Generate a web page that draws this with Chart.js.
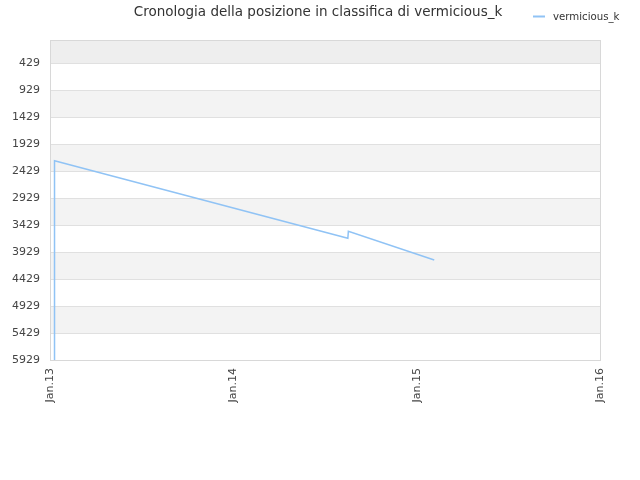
<!DOCTYPE html>
<html>
<head>
<meta charset="utf-8">
<script src="https://cdn.jsdelivr.net/npm/chart.js@4"></script>
<style>
  body { margin: 0; background: #fff; }
  #wrap { width: 640px; height: 480px; }
</style>
</head>
<body>
<div id="wrap"><canvas id="rankChart"></canvas></div>
<script>
// ===== DATA =====
const dates = ["2013-01-09", "2013-01-10", "2014-08-17", "2014-08-18", "2015-02-05"];
const ranks = [5929, 2236, 3674, 3545, 4076];
const yTicks = [429, 929, 1429, 1929, 2429, 2929, 3429, 3929, 4429, 4929, 5429, 5929];
const xTicks = ["2013-01-01", "2014-01-01", "2015-01-01", "2016-01-01"];
const xLabels = ["Jan.13", "Jan.14", "Jan.15", "Jan.16"];

const toMs = s => Date.parse(s + "T00:00:00Z");
const points = dates.map((d, i) => ({ x: toMs(d), y: ranks[i] }));

// alternating horizontal bands + title + legend
const decor = {
  id: "decor",
  beforeDatasetsDraw(chart) {
    const { ctx, chartArea: a, scales: { y } } = chart;
    const edges = [y.min].concat(yTicks);
    ctx.save();
    for (let i = 0; i < edges.length - 1; i++) {
      if (i % 2 === 1) continue;
      const top = y.getPixelForValue(edges[i]);
      const bot = y.getPixelForValue(edges[i + 1]);
      ctx.fillStyle = i === 0 ? "#eeeeee" : "#f3f3f3";
      ctx.fillRect(a.left, top, a.right - a.left, bot - top);
    }
    // grid lines over bands
    ctx.strokeStyle = "#e0e0e0";
    ctx.lineWidth = 1;
    yTicks.forEach(v => {
      const py = Math.round(y.getPixelForValue(v)) + 0.5;
      ctx.beginPath();
      ctx.moveTo(a.left, py);
      ctx.lineTo(a.right, py);
      ctx.stroke();
    });
    ctx.strokeStyle = "#d8d8d8";
    ctx.strokeRect(a.left + 0.5, a.top + 0.5, a.right - a.left, a.bottom - a.top);
    ctx.restore();
  },
  afterDraw(chart) {
    const { ctx } = chart;
    ctx.save();
    ctx.fillStyle = "#333";
    ctx.font = "13.5px 'DejaVu Sans'";
    ctx.textAlign = "center";
    ctx.textBaseline = "middle";
    ctx.fillText("Cronologia della posizione in classifica di vermicious_k", 318, 12);
    ctx.strokeStyle = "#90c3f5";
    ctx.lineWidth = 2;
    ctx.beginPath();
    ctx.moveTo(533, 16.5);
    ctx.lineTo(545, 16.5);
    ctx.stroke();
    ctx.font = "10.2px 'DejaVu Sans'";
    ctx.textAlign = "left";
    ctx.fillText("vermicious_k", 553, 17);
    ctx.restore();
  }
};

new Chart(document.getElementById("rankChart"), {
  type: "line",
  data: {
    datasets: [{
      label: "vermicious_k",
      data: points,
      borderColor: "#90c3f5",
      borderWidth: 1.5,
      pointRadius: 0,
      tension: 0,
      fill: false
    }]
  },
  options: {
    responsive: true,
    maintainAspectRatio: false,
    animation: false,
    layout: { padding: { top: 40, right: 40, left: 0, bottom: 0 } },
    plugins: {
      legend: { display: false },
      title: { display: false },
      tooltip: { enabled: false }
    },
    scales: {
      x: {
        type: "linear",
        min: toMs(xTicks[0]),
        max: toMs(xTicks[xTicks.length - 1]),
        grid: { display: false, drawTicks: false },
        border: { display: false },
        afterBuildTicks: s => { s.ticks = xTicks.map(t => ({ value: toMs(t) })); },
        afterFit: s => { s.height = 120; },
        ticks: {
          autoSkip: false,
          minRotation: 90,
          maxRotation: 90,
          padding: 8,
          color: "#444",
          font: { family: "DejaVu Sans", size: 11 },
          callback: v => xLabels[xTicks.findIndex(t => toMs(t) === v)]
        }
      },
      y: {
        reverse: true,
        min: 0,
        max: 5929,
        grid: { display: false, drawTicks: false },
        border: { display: false },
        afterBuildTicks: s => { s.ticks = yTicks.map(v => ({ value: v })); },
        afterFit: s => { s.width = 50; },
        ticks: {
          autoSkip: false,
          padding: 10,
          color: "#444",
          font: { family: "DejaVu Sans", size: 11 },
          callback: v => String(v)
        }
      }
    }
  },
  plugins: [decor]
});
</script>
</body>
</html>
